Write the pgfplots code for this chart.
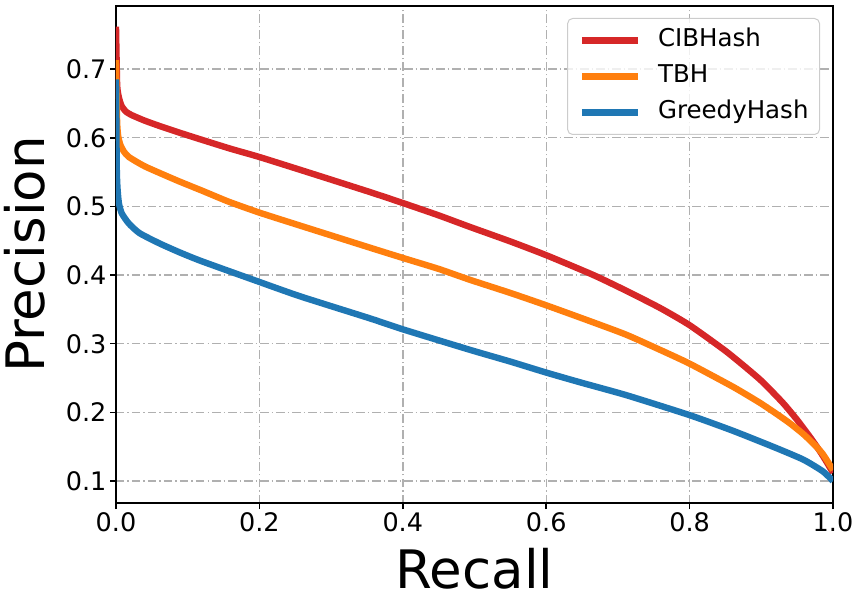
\documentclass[border=0pt]{standalone}
\usepackage{fontspec}
\setmainfont{DejaVu Sans}
\usepackage{pgfplots}
\pgfplotsset{compat=1.18}
\definecolor{cred}{HTML}{D62728}
\definecolor{corange}{HTML}{FF7F0E}
\definecolor{cblue}{HTML}{1F77B4}
\definecolor{gridgray}{HTML}{B0B0B0}
\begin{document}
\begin{tikzpicture}
\begin{axis}[
  scale only axis, width=717pt, height=497pt,
  xmin=0, xmax=1, ymin=0.068, ymax=0.792,
  xtick={0,0.2,0.4,0.6,0.8,1.0},
  xticklabels={0.0,0.2,0.4,0.6,0.8,1.0},
  ytick={0.1,0.2,0.3,0.4,0.5,0.6,0.7},
  yticklabels={0.1,0.2,0.3,0.4,0.5,0.6,0.7},
  xtick pos=bottom, ytick pos=left,
  tick align=outside,
  major tick length=6pt,
  every tick/.style={black, line width=1.5pt},
  axis line style={line width=1.5pt},
  grid=major,
  major grid style={gridgray, line width=1.4pt, dash pattern=on 8.5pt off 3pt on 1.5pt off 3pt},
  tick label style={font=\fontsize{25.5}{30}\selectfont},
  /pgf/number format/assume math mode=true,
  xlabel={Recall}, ylabel={Precision},
  label style={font=\fontsize{53}{60}\selectfont},
  xlabel style={at={(axis description cs:0.5,-0.0905)}, anchor=north, inner sep=0pt},
  ylabel style={at={(axis description cs:-0.099,0.5)}, anchor=south, inner sep=0pt},
  legend cell align=left,
  legend image code/.code={\draw[#1] (0pt,0pt) -- (56pt,0pt);},
  legend style={at={(rel axis cs:1,1)}, anchor=north east, xshift=-13pt, yshift=-12pt,
    draw=black!20, fill=white, fill opacity=0.8, text opacity=1, rounded corners=5pt,
    line width=1pt, font=\fontsize{24.5}{29}\selectfont,
    inner xsep=11pt, inner ysep=10pt, row sep=12pt, column sep=17pt,
    nodes={inner sep=0pt, text height=18.5pt, text depth=5.5pt}},
  every axis plot/.append style={line width=6.4pt, line join=round, smooth, tension=0.35},
]
\addplot[cred] coordinates {
(0,0.762) (0.0015,0.680) (0.003,0.664) (0.005,0.655) (0.008,0.646) (0.014,0.638)
(0.022,0.633) (0.04,0.625) (0.064,0.616) (0.09,0.607) (0.12,0.597) (0.16,0.584)
(0.2,0.572) (0.27,0.549) (0.354,0.521) (0.4,0.505) (0.45,0.487) (0.494,0.470)
(0.55,0.449) (0.6,0.429) (0.666,0.400) (0.712,0.377) (0.759,0.352) (0.8,0.327)
(0.852,0.288) (0.898,0.248) (0.93,0.214) (0.95,0.189) (0.968,0.164) (0.982,0.143)
(0.991,0.128) (1.0,0.112)
};
\addlegendentry{CIBHash}
\addplot[corange] coordinates {
(0,0.713) (0.0015,0.625) (0.003,0.603) (0.006,0.590) (0.011,0.580) (0.018,0.572)
(0.041,0.558) (0.087,0.537) (0.12,0.523) (0.157,0.507) (0.2,0.491) (0.257,0.472)
(0.354,0.440) (0.4,0.425) (0.45,0.409) (0.494,0.393) (0.55,0.374) (0.6,0.356)
(0.666,0.331) (0.712,0.313) (0.759,0.291) (0.8,0.271) (0.861,0.237) (0.898,0.214)
(0.921,0.198) (0.94,0.184) (0.959,0.168) (0.975,0.152) (0.986,0.139) (1.0,0.116)
};
\addlegendentry{TBH}
\addplot[cblue] coordinates {
(0,0.685) (0.001,0.560) (0.002,0.528) (0.004,0.505) (0.008,0.490) (0.018,0.475)
(0.033,0.461) (0.061,0.446) (0.089,0.433) (0.12,0.420) (0.2,0.390) (0.257,0.369)
(0.354,0.337) (0.4,0.321) (0.494,0.291) (0.55,0.274) (0.6,0.258) (0.65,0.243)
(0.712,0.225) (0.8,0.196) (0.861,0.173) (0.921,0.148) (0.959,0.131) (0.986,0.114)
(1.0,0.100)
};
\addlegendentry{GreedyHash}
\coordinate (sw) at (rel axis cs:0,0);
\coordinate (ne) at (rel axis cs:1,1);
\end{axis}
\pgfresetboundingbox
\path[use as bounding box] ([xshift=-116pt,yshift=-99pt]sw) rectangle ([xshift=23pt,yshift=6pt]ne);
\end{tikzpicture}
\end{document}
